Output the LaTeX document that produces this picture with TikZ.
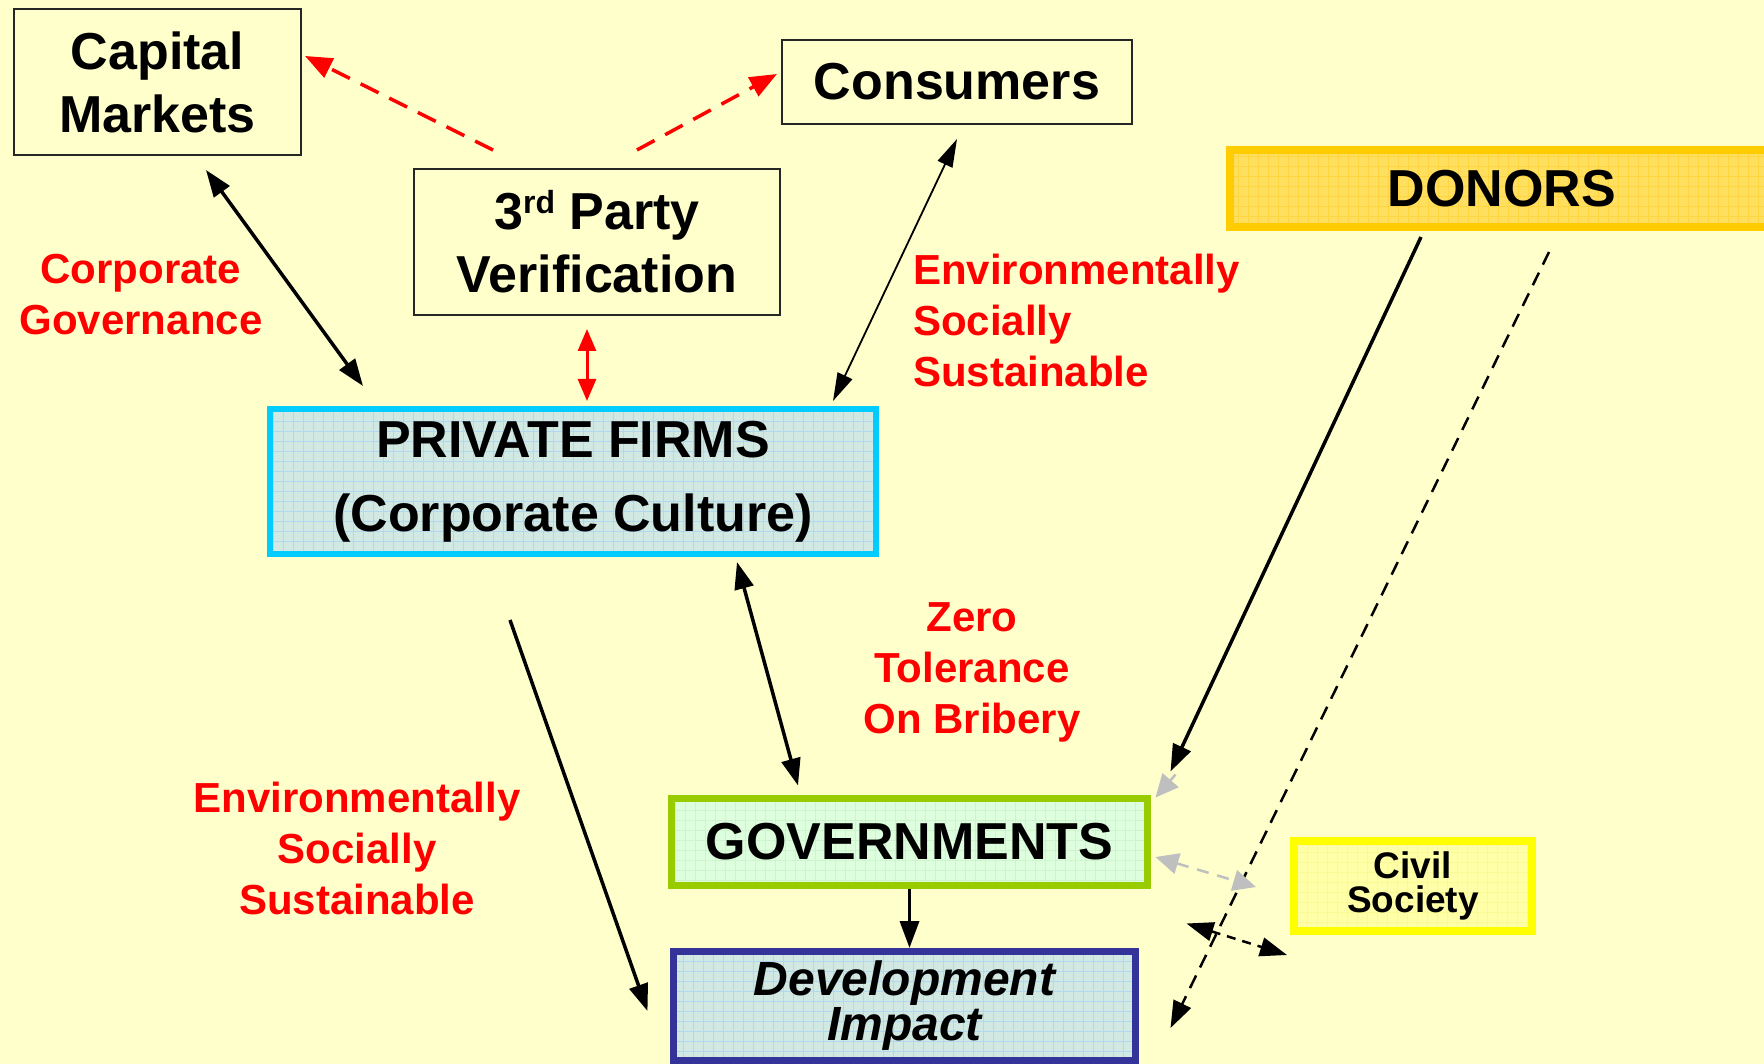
\documentclass[tikz,border=0pt]{standalone}
\usepackage{fontspec}
\setmainfont{Liberation Sans}
\usetikzlibrary{arrows.meta,calc}

\definecolor{paper}{HTML}{FFFFCC}
\definecolor{firmedge}{HTML}{00CCFF}
\definecolor{firmfill}{HTML}{D2E8E2}
\definecolor{firmgrid}{HTML}{B0D8F0}
\definecolor{govedge}{HTML}{99CC00}
\definecolor{govfill}{HTML}{DDFFDD}
\definecolor{govgrid}{HTML}{CFF2CF}
\definecolor{donoredge}{HTML}{FFCC00}
\definecolor{donorfill}{HTML}{FFDF5F}
\definecolor{donorgrid}{HTML}{FFD640}
\definecolor{civiledge}{HTML}{FFFF00}
\definecolor{civilfill}{HTML}{FFFFA8}
\definecolor{civilgrid}{HTML}{FAFA94}
\definecolor{devedge}{HTML}{333399}
\definecolor{redtext}{HTML}{FF0000}
\definecolor{greyarrow}{HTML}{BFBFBF}

\newcommand\bigtext{\fontsize{52}{63}\selectfont\bfseries}
\newcommand\redtext{\fontsize{42}{51}\selectfont\bfseries}

\tikzset{
  bighead/.tip={Triangle[length=27pt,width=19pt]},
  slimhead/.tip={Triangle[length=28pt,width=16pt]},
  redhead/.tip={Triangle[length=22pt,width=18pt]},
  redbig/.tip={Triangle[length=27pt,width=21pt]},
  greyhead/.tip={Triangle[length=23pt,width=21pt]},
  gridfill/.style={path picture={\draw[#1, line width=0.7pt]
      (path picture bounding box.south west) grid[step=10pt] (path picture bounding box.north east);}},
}

\begin{document}
\begin{tikzpicture}[x=1pt,y=-1pt,
    plainbox/.style={draw=black!85, line width=2pt, inner sep=0pt, align=center, font=\bigtext},
    firmbox/.style={draw=firmedge, line width=6pt, fill=firmfill, gridfill=firmgrid,
      inner sep=0pt, align=center, font=\fontsize{52}{74}\selectfont\bfseries},
    donorbox/.style={draw=donoredge, line width=8pt, fill=donorfill, gridfill=donorgrid,
      inner sep=0pt, font=\bigtext},
    govbox/.style={draw=govedge, line width=7pt, fill=govfill, gridfill=govgrid,
      inner sep=0pt, font=\bigtext},
    civilbox/.style={draw=civiledge, line width=8pt, fill=civilfill, gridfill=civilgrid,
      inner sep=0pt, align=center, font=\fontsize{37}{34}\selectfont\bfseries},
    devbox/.style={draw=devedge, line width=7pt, fill=firmfill, gridfill=firmgrid,
      inner sep=0pt, align=center, font=\fontsize{48}{45}\selectfont\bfseries\itshape},
    redlabel/.style={text=redtext, inner sep=0pt, align=center, font=\redtext},
    blkline/.style={draw=black, line width=3.5pt},
    thinline/.style={draw=black, line width=1.8pt},
    redline/.style={draw=redtext, line width=3pt},
    reddash/.style={draw=redtext, line width=3.5pt, dash pattern=on 20pt off 12pt},
    blkdash/.style={draw=black, line width=2.5pt, dash pattern=on 14pt off 9pt},
    smalldash/.style={draw=black, line width=2.5pt, dash pattern=on 9pt off 7pt},
    greydash/.style={draw=greyarrow, line width=2.5pt, dash pattern=on 12pt off 9pt},
    greyline/.style={draw=greyarrow, line width=2.5pt},
  ]
  \useasboundingbox (0,0) rectangle (1764,1064);
  \fill[paper] (0,0) rectangle (1764,1064);
  \clip (0,0) rectangle (1764,1064);

  % boxes
  \node[plainbox, minimum width=287pt, minimum height=146pt] (cap) at (157.5,82) {Capital\\Markets};
  \node[plainbox, minimum width=350pt, minimum height=84pt] (cons) at (957,82) {Consumers};
  \node[plainbox, minimum width=366pt, minimum height=146pt] (verif) at (597,242)
    {3\raisebox{16pt}{\fontsize{32}{32}\selectfont rd} Party\\Verification};
  \node[firmbox, minimum width=606pt, minimum height=145pt] (firms) at (573,481.5)
    {PRIVATE FIRMS\\(Corporate Culture)};
  \node[donorbox, minimum width=544pt, minimum height=77pt] (donors) at (1502,188.5) {DONORS};
  \node[govbox, minimum width=476pt, minimum height=87pt] (gov) at (909.5,842) {GOVERNMENTS};
  \node[civilbox, minimum width=238pt, minimum height=90pt] (civil) at (1413,886) {Civil\\Society};
  \node[devbox, minimum width=462pt, minimum height=109pt] (dev) at (904.5,1006) {Development\\Impact};

  % red labels
  \node[redlabel] (corpgov) at (141,295) {Corporate\\Governance};
  \node[redlabel, anchor=west, align=left] (envtop) at (913,320) {Environmentally\\Socially\\Sustainable};
  \node[redlabel] (zero) at (972,672) {Zero\\Tolerance\\On Bribery};
  \node[redlabel] (envlow) at (357,848) {Environmentally\\Socially\\Sustainable};

  % connectors
  \draw[blkline, bighead-bighead] ($(cap.south)+(48.5,14)$) -- ($(firms.north)+(-210,-20)$);
  \draw[thinline, slimhead-slimhead] ($(cons.south)+(0,14)$) -- ($(firms.north east)+(-46,-5)$);
  \draw[redline, redhead-redhead] ($(verif.south)+(-10,13)$) -- ($(firms.north)+(14,-5)$);
  \draw[reddash, -redbig] ($(verif.north)+(-104,-18)$) -- ($(cap.east)+(3,-26)$);
  \draw[reddash, -redbig] ($(verif.north)+(40,-18)$) -- ($(cons.west)+(-4,-8)$);
  \draw[blkline, bighead-bighead] ($(firms.south)+(164,5)$) -- ($(gov.north)+(-111.5,-9.5)$);
  \draw[blkline, -bighead] ($(firms.south)+(-63,63)$) -- ($(dev.west)+(-22.5,5)$);
  \draw[greyline, -greyhead] ($(gov.north east)+(24.5,-20.5)$) -- ($(gov.north east)+(4.5,2.5)$);
  \draw[blkline, -bighead] ($(donors.south)+(-81,6)$) -- ($(gov.north east)+(19.5,-23.5)$);
  \draw[blkdash, -bighead] ($(donors.south)+(47,21)$) -- ($(dev.east)+(31.5,22)$);
  \draw[blkline, -bighead] (gov.south) -- (gov.south |- dev.north);
  \draw[greydash, greyhead-greyhead] ($(gov.east)+(4.5,15)$) -- ($(civil.west)+(-34,1)$);
  \draw[smalldash, bighead-bighead] ($(gov.south east)+(35.5,34.5)$) -- ($(civil.south west)+(-3,20)$);
\end{tikzpicture}
\end{document}
